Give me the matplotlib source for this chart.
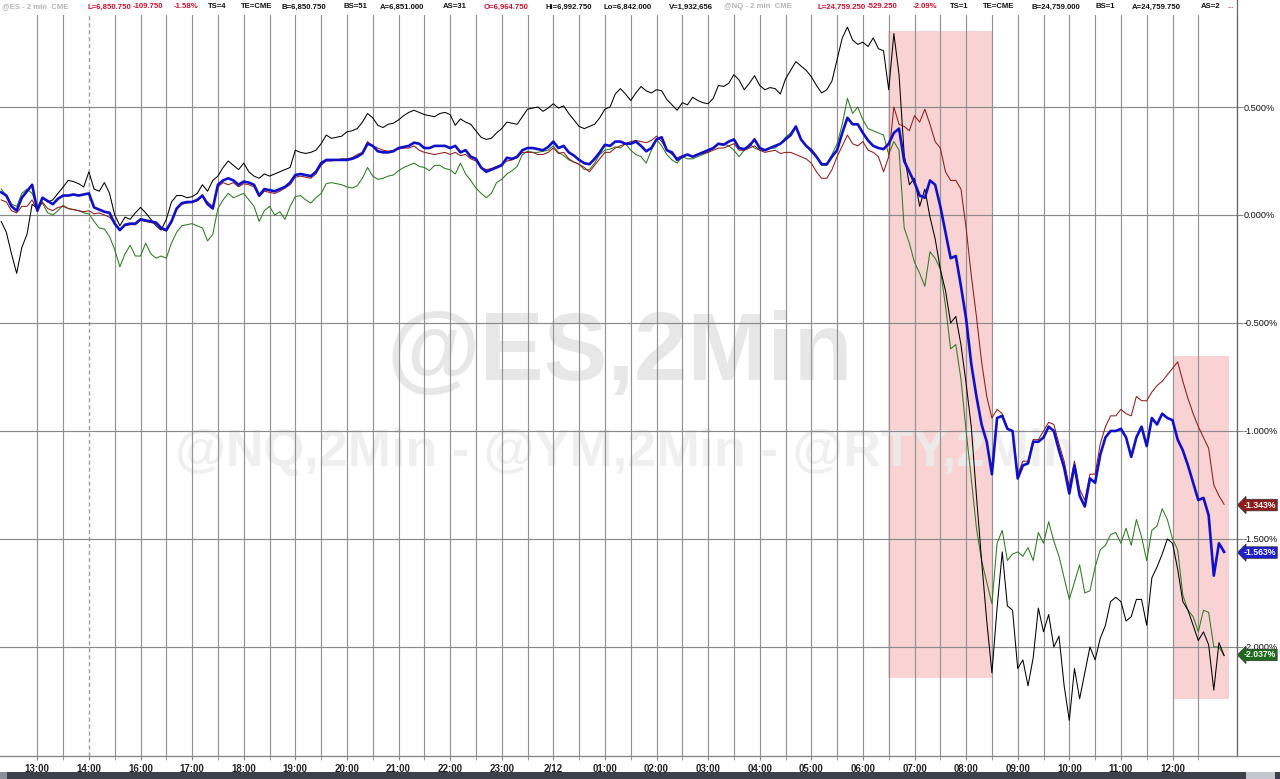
import numpy as np
import matplotlib
matplotlib.use("Agg")
import matplotlib.pyplot as plt
from matplotlib.lines import Line2D
from matplotlib.patches import Rectangle
import matplotlib.transforms as mtransforms

plt.rcParams['font.family'] = ['Liberation Sans', 'DejaVu Sans']

# ---- data: % change from start, sampled every 6 minutes of session time ----
# session hours: 0 = 13:00, 1 = 14:00 (session break), 2 = 16:00 ... 22 = 12:00
black = [-0.03, -0.08, -0.18, -0.27, -0.15, -0.09, 0.05,
         0.03, 0.08, 0.06, 0.07, 0.1, 0.13, 0.16, 0.155, 0.145, 0.13,
         0.2, 0.12, 0.11, 0.15, 0.1, 0.0, -0.05, -0.01, -0.02, 0.01,
         0.035, 0.01, -0.02, -0.05, -0.07, -0.02, 0.06, 0.09, 0.09, 0.08,
         0.085, 0.1, 0.14, 0.11, 0.16, 0.18, 0.22, 0.25, 0.23, 0.21,
         0.24, 0.2, 0.18, 0.17, 0.19, 0.18, 0.19, 0.2, 0.21, 0.22,
         0.3, 0.29, 0.285, 0.29, 0.3, 0.33, 0.37, 0.355, 0.36, 0.365,
         0.385, 0.39, 0.4, 0.43, 0.47, 0.45, 0.415, 0.405, 0.42, 0.425,
         0.44, 0.46, 0.475, 0.485, 0.475, 0.465, 0.46, 0.455, 0.47, 0.475,
         0.465, 0.415, 0.445, 0.43, 0.42, 0.39, 0.36, 0.35, 0.355, 0.38,
         0.4, 0.43, 0.425, 0.42, 0.455, 0.49, 0.495, 0.5, 0.48, 0.495,
         0.515, 0.495, 0.505, 0.47, 0.44, 0.41, 0.4, 0.41, 0.42, 0.45,
         0.49, 0.5, 0.56, 0.585, 0.56, 0.53, 0.565, 0.595, 0.575, 0.565,
         0.58, 0.575, 0.535, 0.51, 0.485, 0.52, 0.51, 0.545, 0.53, 0.52,
         0.515, 0.54, 0.6, 0.595, 0.61, 0.65, 0.625, 0.58, 0.61, 0.645,
         0.6, 0.58, 0.59, 0.585, 0.56, 0.63, 0.67, 0.71, 0.69, 0.67,
         0.64, 0.6, 0.565, 0.58, 0.62, 0.72, 0.82, 0.87, 0.81, 0.79,
         0.8, 0.78, 0.82, 0.77, 0.76, 0.58, 0.84, 0.65, 0.28, 0.14,
         0.17, 0.04, 0.12, -0.01, -0.11, -0.25, -0.35, -0.5, -0.47, -0.6,
         -0.78, -0.98, -1.3, -1.6, -1.88, -2.12, -1.82, -1.56, -1.81, -1.83,
         -2.1, -2.06, -2.18, -2.05, -1.82, -1.93, -1.85, -2.0, -1.95, -2.18,
         -2.34, -2.1, -2.24, -2.12, -2.0, -2.06, -1.96, -1.9, -1.79, -1.77,
         -1.79, -1.88, -1.86, -1.78, -1.78, -1.9, -1.68, -1.63, -1.57, -1.5,
         -1.52, -1.64, -1.79, -1.83, -1.9, -1.97, -1.93, -1.99, -2.2, -1.98,
         -2.04]

blue = [0.105, 0.09, 0.04, 0.02, 0.08, 0.11, 0.14,
        0.02, 0.08, 0.065, 0.05, 0.075, 0.09, 0.09, 0.095, 0.09, 0.095,
        0.1, 0.035, 0.025, 0.015, 0.01, -0.04, -0.07, -0.045, -0.04, -0.04,
        -0.02, -0.025, -0.03, -0.035, -0.06, -0.07, -0.03, 0.03, 0.055, 0.06,
        0.06, 0.07, 0.09, 0.05, 0.03, 0.14, 0.16, 0.17, 0.16, 0.14,
        0.155, 0.15, 0.14, 0.09, 0.12, 0.115, 0.11, 0.12, 0.13, 0.15,
        0.185, 0.19, 0.185, 0.18, 0.2, 0.24, 0.255, 0.255, 0.255, 0.255,
        0.255, 0.26, 0.27, 0.285, 0.33, 0.32, 0.295, 0.29, 0.29, 0.295,
        0.31, 0.315, 0.32, 0.335, 0.33, 0.31, 0.31, 0.32, 0.32, 0.32,
        0.31, 0.32, 0.29, 0.3, 0.27, 0.26, 0.22, 0.2, 0.21, 0.22,
        0.23, 0.265, 0.26, 0.27, 0.3, 0.31, 0.31, 0.305, 0.3, 0.315,
        0.34, 0.31, 0.32, 0.29, 0.275, 0.255, 0.24, 0.235, 0.26, 0.29,
        0.325, 0.32, 0.34, 0.34, 0.33, 0.33, 0.34, 0.32, 0.295, 0.31,
        0.35, 0.36, 0.3, 0.29, 0.255, 0.27, 0.28, 0.27, 0.28, 0.29,
        0.3, 0.31, 0.33, 0.325, 0.34, 0.35, 0.31, 0.305, 0.32, 0.35,
        0.31, 0.3, 0.31, 0.32, 0.33, 0.35, 0.37, 0.41, 0.35, 0.32,
        0.3, 0.27, 0.235, 0.235, 0.27, 0.3, 0.38, 0.45, 0.42, 0.42,
        0.38, 0.345, 0.32, 0.31, 0.305, 0.33, 0.38, 0.4, 0.25, 0.2,
        0.15, 0.09, 0.08, 0.16, 0.14, 0.04, -0.08, -0.2, -0.19, -0.33,
        -0.48, -0.69, -0.84, -0.97, -1.05, -1.2, -0.94, -0.93, -0.99, -1.0,
        -1.22, -1.16, -1.15, -1.05, -1.05, -1.03, -0.98, -1.0, -1.09, -1.17,
        -1.29, -1.16, -1.3, -1.35, -1.22, -1.24, -1.11, -1.03, -1.0, -1.0,
        -0.99, -1.03, -1.12, -1.03, -0.98, -1.07, -0.94, -0.97, -0.92, -0.94,
        -0.95, -1.04, -1.09, -1.16, -1.24, -1.32, -1.31, -1.39, -1.67, -1.52,
        -1.56]

red = [0.07, 0.06, 0.02, 0.01, 0.04, 0.04, 0.07,
       0.02, 0.06, 0.03, 0.02, 0.035, 0.04, 0.03, 0.025, 0.02, 0.015,
       0.02, 0.005, 0.01, 0.0, -0.01, -0.04, -0.07, -0.05, -0.045, -0.045,
       -0.025, -0.03, -0.035, -0.04, -0.065, -0.075, -0.035, 0.025, 0.05, 0.055,
       0.06, 0.065, 0.085, 0.06, 0.04, 0.13, 0.15, 0.14, 0.15, 0.13,
       0.145, 0.14, 0.13, 0.085, 0.11, 0.105, 0.1, 0.11, 0.125, 0.14,
       0.175, 0.18, 0.175, 0.17, 0.19, 0.23, 0.25, 0.25, 0.255, 0.26,
       0.26, 0.265, 0.28, 0.29, 0.34, 0.32, 0.31, 0.3, 0.295, 0.3,
       0.305, 0.31, 0.31, 0.32, 0.3, 0.29, 0.285, 0.28, 0.285, 0.29,
       0.28, 0.29, 0.275, 0.28, 0.26, 0.25, 0.22, 0.21, 0.215, 0.225,
       0.235, 0.25, 0.255, 0.265, 0.29, 0.29, 0.29, 0.28, 0.28, 0.29,
       0.31, 0.285, 0.29, 0.26, 0.245, 0.235, 0.22, 0.2, 0.23, 0.26,
       0.29, 0.29, 0.31, 0.32, 0.33, 0.34, 0.345, 0.34, 0.335, 0.345,
       0.365, 0.34, 0.3, 0.28, 0.265, 0.275, 0.28, 0.27, 0.28, 0.285,
       0.29, 0.3, 0.31, 0.31, 0.32, 0.33, 0.3, 0.3, 0.31, 0.32,
       0.3, 0.29, 0.295, 0.3, 0.285, 0.29, 0.29, 0.28, 0.27, 0.26,
       0.24, 0.2, 0.17, 0.17, 0.21, 0.27, 0.32, 0.37, 0.33, 0.32,
       0.34, 0.3, 0.29, 0.27, 0.2, 0.27, 0.5, 0.42, 0.41, 0.39,
       0.46, 0.43, 0.49, 0.42, 0.34, 0.31, 0.2, 0.16, 0.16, 0.12,
       -0.06, -0.28, -0.47, -0.68, -0.84, -0.94, -0.9, -0.92, -0.99, -1.0,
       -1.2, -1.14, -1.14, -1.04, -1.04, -1.0, -0.96, -0.97, -1.06, -1.14,
       -1.26, -1.14, -1.27, -1.32, -1.2, -1.2, -1.06, -0.98, -0.93, -0.93,
       -0.9, -0.92, -0.93, -0.84, -0.86, -0.86, -0.82, -0.79, -0.77, -0.74,
       -0.71, -0.68, -0.77, -0.85, -0.92, -0.98, -1.03, -1.08, -1.25, -1.3,
       -1.34]

green = [0.12, 0.09, 0.05, 0.04, 0.1, 0.12, 0.1,
         0.04, 0.055, 0.01, 0.0, 0.02, 0.045, 0.03, 0.025, 0.02, 0.01,
         0.005, -0.03, -0.06, -0.065, -0.1, -0.16, -0.24, -0.18, -0.14, -0.19,
         -0.19, -0.13, -0.18, -0.2, -0.19, -0.2, -0.13, -0.08, -0.05, -0.045,
         -0.04, -0.05, -0.06, -0.12, -0.09, 0.03, 0.07, 0.1, 0.08, 0.09,
         0.1, 0.07, 0.04, -0.03, 0.02, 0.04, 0.0, 0.015, -0.02, 0.04,
         0.085, 0.09, 0.07, 0.055, 0.08, 0.1, 0.145, 0.15, 0.145, 0.14,
         0.13, 0.125, 0.135, 0.17, 0.22, 0.18, 0.165, 0.17, 0.18, 0.185,
         0.205, 0.22, 0.23, 0.24, 0.225, 0.22, 0.205, 0.23, 0.23, 0.215,
         0.21, 0.19, 0.24, 0.19, 0.16, 0.125, 0.1, 0.08, 0.1, 0.15,
         0.165, 0.19, 0.205, 0.225, 0.28, 0.295, 0.29, 0.29, 0.295, 0.3,
         0.32, 0.29, 0.275, 0.255, 0.245, 0.235, 0.21, 0.21, 0.24, 0.28,
         0.3, 0.305, 0.315, 0.31, 0.33, 0.3, 0.28, 0.27, 0.24, 0.3,
         0.35, 0.32, 0.28, 0.255, 0.24, 0.27, 0.26, 0.26, 0.27, 0.28,
         0.29, 0.31, 0.33, 0.33, 0.32, 0.3, 0.27, 0.3, 0.33, 0.31,
         0.3, 0.3, 0.31, 0.31, 0.33, 0.36, 0.38, 0.41, 0.35, 0.32,
         0.29, 0.27, 0.23, 0.23, 0.28, 0.33, 0.42, 0.54, 0.47, 0.5,
         0.44, 0.4, 0.39, 0.38, 0.37, 0.28, 0.34, 0.3, -0.06, -0.13,
         -0.22, -0.27, -0.33, -0.17, -0.2, -0.25, -0.42, -0.62, -0.6, -0.76,
         -1.0, -1.22, -1.45, -1.6, -1.7, -1.8, -1.52, -1.46, -1.6, -1.57,
         -1.56, -1.58, -1.54, -1.6, -1.47, -1.52, -1.42, -1.51, -1.58, -1.68,
         -1.78, -1.7, -1.62, -1.75, -1.74, -1.63, -1.55, -1.53, -1.48, -1.47,
         -1.52, -1.45, -1.53, -1.41, -1.49, -1.6, -1.46, -1.44, -1.36, -1.41,
         -1.5, -1.55, -1.76, -1.83, -1.86, -1.93, -1.83, -1.84, -2.0, -2.0,
         -2.04]

t = np.round(np.arange(len(blue)) * 0.1 - 0.7, 2)

hour_labels = ["13:00", "14:00", "16:00", "17:00", "18:00", "19:00", "20:00",
               "21:00", "22:00", "23:00", "2/12", "01:00", "02:00", "03:00",
               "04:00", "05:00", "06:00", "07:00", "08:00", "09:00", "10:00",
               "11:00", "12:00"]
y_levels = [0.5, 0.0, -0.5, -1.0, -1.5, -2.0]
last_values = [(-1.343, '#8e1b1b'), (-1.563, '#1f1fcc'), (-2.037, '#1d6b1d')]
# highlight boxes: (t0, t1, low, high)
highlights = [(16.48, 18.53, -2.146, 0.854), (22.0, 23.1, -2.242, -0.652)]

W, H = 1280, 779
fig = plt.figure(figsize=(W / 100, H / 100), dpi=100, facecolor='white')
ax_right = 1236.7
ax_top, ax_bot = 15, 756
ax = fig.add_axes([0, (H - ax_bot) / H, ax_right / W, (ax_bot - ax_top) / H])
ax.set_xlim(-0.723, 23.244)
ax.set_ylim(-2.505, 0.926)

grid_c = '#939393'
for h in np.arange(0, 23, 0.5):
    if h == 1.0:
        ax.axvline(h, color='#a0a0a0', lw=1.0, ls=(0, (3, 2)), zorder=1)
    else:
        ax.axvline(h, color=grid_c, lw=0.85, zorder=1)
for yv in y_levels:
    ax.axhline(yv, color='#8a8a8a', lw=0.85, zorder=1)

for t0, t1, lo, hi in highlights:
    ax.add_patch(Rectangle((t0, lo), t1 - t0, hi - lo, facecolor='#f9d3d3',
                           edgecolor='none', zorder=0.4))

ax.text(0.501, 0.541, "@ES,2Min", transform=ax.transAxes, fontsize=69,
        fontweight='bold', color='#e7e7e7', ha='center', va='center', zorder=0.5)
ax.text(0.1415, 0.41, "@NQ,2Min - @YM,2Min - @RTY,2Min", transform=ax.transAxes,
        fontsize=37.5, fontweight='bold', color='#ededed', ha='left', va='center',
        zorder=0.5, alpha=0.85)

ax.plot(t, green, color='#2e7a22', lw=0.75, zorder=3)
ax.plot(t, black, color='#000000', lw=0.75, zorder=3.2)
ax.plot(t, red, color='#8e1b1b', lw=0.75, zorder=3.4)
ax.plot(t, blue, color='#1010c8', lw=1.9, zorder=3.6)

for s in ['top', 'left']:
    ax.spines[s].set_visible(False)
ax.spines['right'].set_color('#666666')
ax.spines['bottom'].set_color('#888888')

ax.set_xticks(range(len(hour_labels)))
ax.set_xticklabels(hour_labels, fontsize=7, fontweight='bold', color='#222222')
ax.set_xticks(np.arange(0.5, 23, 1.0), minor=True)
ax.tick_params(axis='x', which='both', length=3, color='#888888', pad=2.5)

ax.yaxis.tick_right()
ax.set_yticks(y_levels)
ax.set_yticklabels([f"{v:.3f}%" if v >= 0 else f"-{abs(v):.3f}%" for v in y_levels],
                   fontsize=6.6, color='#111111')
ax.tick_params(axis='y', length=4, color='#888888', pad=1)

blend = mtransforms.blended_transform_factory(ax.transAxes, ax.transData)
for val, col in last_values:
    ax.text(1.0055, val, f"{val:.3f}%", transform=blend, fontsize=6.2,
            fontweight='bold', color='white', ha='left', va='center', zorder=10,
            clip_on=False,
            bbox=dict(boxstyle='larrow,pad=0.15', fc=col, ec='#333333', lw=0.5))

# header line of the quote window
hdr = [("@ES - 2 min  CME", 2, '#b5b5b5'), ("L=6,850.750", 88, '#c8102e'),
       ("-109.750", 133, '#c8102e'), ("-1.58%", 173.5, '#c8102e'),
       ("TS=4", 208, '#111111'), ("TE=CME", 241, '#111111'),
       ("B=6,850.750", 282, '#111111'), ("BS=51", 343, '#111111'),
       ("A=6,851.000", 380, '#111111'), ("AS=31", 443, '#111111'),
       ("O=6,964.750", 484, '#c8102e'), ("Hi=6,992.750", 545, '#111111'),
       ("Lo=6,842.000", 604, '#111111'), ("V=1,932,656", 669, '#111111'),
       ("@NQ - 2 min  CME", 724, '#b5b5b5'), ("L=24,759.250", 817.6, '#c8102e'),
       ("-529.250", 866.5, '#c8102e'), ("-2.09%", 912.6, '#c8102e'),
       ("TS=1", 950, '#111111'), ("TE=CME", 983, '#111111'),
       ("B=24,759.000", 1032, '#111111'), ("BS=1", 1095, '#111111'),
       ("A=24,759.750", 1132, '#111111'), ("AS=2", 1201, '#111111'),
       ("...", 1228, '#c8102e')]
for s, x, c in hdr:
    fig.text(x / W, 1 - 7 / H, s, fontsize=5.6, color=c, ha='left', va='center',
             fontweight='bold')

fig.add_artist(Line2D([ax_right / W] * 2, [(H - ax_bot) / H, 1], color='#666666', lw=0.9))
fig.add_artist(Line2D([0, 1], [(H - ax_bot) / H] * 2, color='#888888', lw=0.9))

# bottom scroll bar
fig.add_artist(Rectangle((0, 0), 1, 7 / H, transform=fig.transFigure,
                         facecolor='#3c414c', edgecolor='none'))
fig.add_artist(Rectangle((0, 0), 7 / W, 7 / H, transform=fig.transFigure,
                         facecolor='#8a8f99', edgecolor='none'))
fig.add_artist(Rectangle((1246 / W, 0), 29 / W, 7 / H, transform=fig.transFigure,
                         facecolor='#c4c8ce', edgecolor='none'))

fig.savefig('out.png', dpi=100, facecolor='white')
